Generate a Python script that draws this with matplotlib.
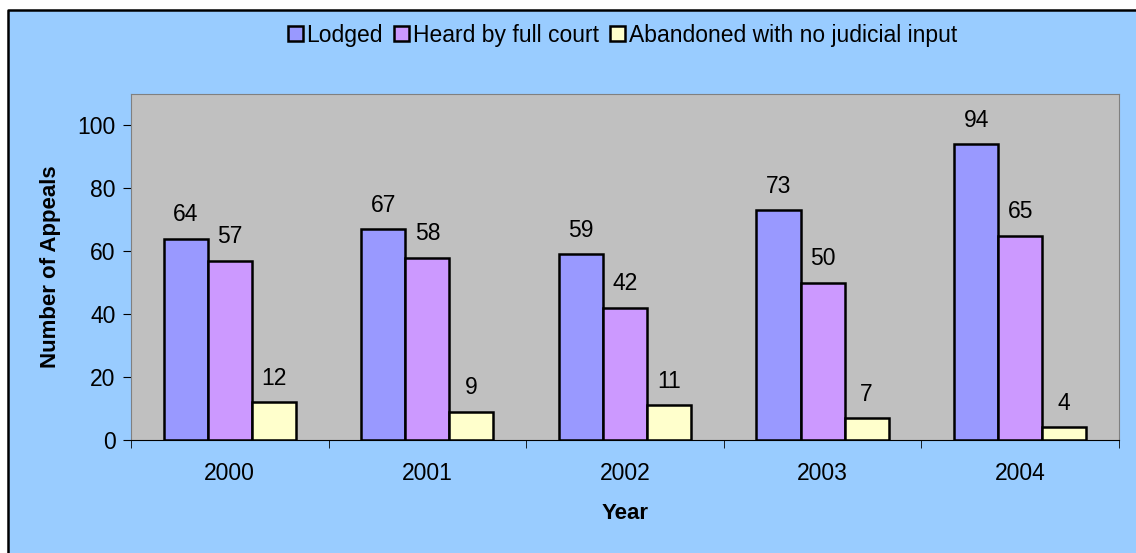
import numpy as np
from matplotlib import pyplot as plt
from matplotlib.patches import Rectangle
from matplotlib.lines import Line2D

years = ['2000', '2001', '2002', '2003', '2004']
lodged = [64, 67, 59, 73, 94]
heard = [57, 58, 42, 50, 65]
abandoned = [12, 9, 11, 7, 4]

series = [
  ('Lodged', lodged, '#9999FF'),
  ('Heard by full court', heard, '#CC99FF'),
  ('Abandoned with no judicial input', abandoned, '#FFFFCC'),
]

plt.rcParams['font.family'] = ['Liberation Sans', 'DejaVu Sans']

fig = plt.figure(figsize=(11.36, 5.53), dpi=100)
fig.patch.set_facecolor('white')
# chart area background (cropped: only top and left edges of the frame show)
x0, y1 = 8 / 1136, 1 - 10 / 553
fig.patches.append(Rectangle((x0, 0), 1 - x0, y1, transform=fig.transFigure,
                             facecolor='#99CCFF', edgecolor='none', zorder=-2))
fig.lines.append(Line2D([x0, x0, 1], [0, y1, y1], transform=fig.transFigure,
                        color='black', linewidth=1.8, zorder=-1))

ax = fig.add_axes([0.1153, 0.2043, 0.8697, 0.6257])
ax.set_facecolor('#C0C0C0')

x = np.arange(len(years))
w = 0.223
for i, (name, vals, col) in enumerate(series):
  pos = x + (i - 1) * w
  bars = ax.bar(pos, vals, w, color=col, edgecolor='black', linewidth=1.8, label=name)
  for b, v in zip(bars, vals):
    ax.annotate(str(v), (b.get_x() + b.get_width() / 2, v), xytext=(0, 9),
                textcoords='offset points', ha='center', va='bottom', fontsize=16.5)

ax.set_xlim(-0.5, len(years) - 0.5)
ax.set_ylim(0, 110)
ax.set_yticks(range(0, 101, 20))
ax.set_xticks(x)
ax.set_xticklabels(years)
ax.set_xticks(np.arange(-0.5, len(years)), minor=True)
ax.tick_params(axis='x', which='major', length=0, pad=16, labelsize=16.5)
ax.tick_params(axis='x', which='minor', length=6, direction='out', color='black')
ax.tick_params(axis='y', length=6, direction='out', labelsize=16.5, pad=5)

for s in ['top', 'right', 'left']:
  ax.spines[s].set_color('#808080')
ax.spines['bottom'].set_color('black')

ax.set_xlabel('Year', fontsize=16, fontweight='bold', labelpad=13)
ax.set_ylabel('Number of Appeals', fontsize=16, fontweight='bold', labelpad=12)

fig.legend(loc='center', bbox_to_anchor=(0.548, 0.936), ncol=3, frameon=False,
           fontsize=16.5, handlelength=0.65, handleheight=0.65, handletextpad=0.15,
           columnspacing=0.5, borderpad=0)

fig.savefig('out.png', dpi=100, facecolor=fig.get_facecolor())
